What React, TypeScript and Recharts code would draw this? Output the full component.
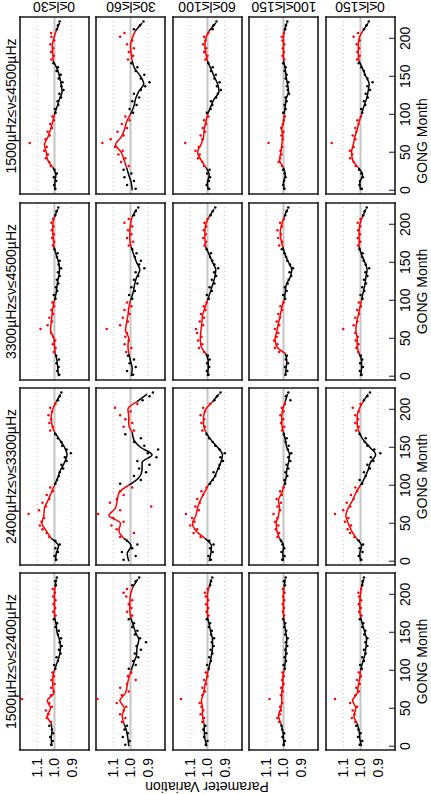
import React from 'react';
import { ComposedChart, XAxis, YAxis, Scatter, Line, ReferenceLine } from 'recharts';

const FONT = '"Liberation Sans", Arial, Helvetica, sans-serif';

// GONG months of the smoothed curve and of the monthly points
const lineMonths = [0, 10, 20, 30, 40, 50, 60, 70, 80, 90, 100, 110, 120, 130, 140, 150, 160, 170, 180, 190, 200, 210, 220];
const dotMonths = [2, 7, 12, 17, 22, 27, 32, 37, 42, 47, 52, 57, 62, 67, 72, 77, 82, 87, 92, 97, 102, 107, 112, 117, 122, 127, 132, 137, 142, 147, 152, 157, 162, 167, 172, 177, 182, 187, 192, 197, 202, 207, 212, 217, 222];

const bands = ['1500µHz≤ν≤2400µHz', '2400µHz≤ν≤3300µHz', '3300µHz≤ν≤4500µHz', '1500µHz≤ν≤4500µHz'];
const degrees = ['0≤l≤30', '30≤l≤60', '60≤l≤100', '100≤l≤150', '0≤l≤150'];

const monthTicks = [0, 50, 100, 150, 200];
const minorTicks = [0, 10, 20, 30, 40, 50, 60, 70, 80, 90, 100, 110, 120, 130, 140, 150, 160, 170, 180, 190, 200, 210, 220];
const valueTicks = [0.9, 1.0, 1.1];

// parameter variation, (value - 1) x 1000, one row per degree range
const line1524 = [
  [15, 19, 15, 19, 42, 23, 42, 4, 10, 10, 0, -15, -29, -35, -29, -15, -10, 0, 0, 0, 0, -4, -10],
  [10, 15, 23, 38, 48, 35, 62, 29, 19, 10, -4, -19, -35, -38, -48, -29, -15, 0, 4, 4, 0, -15, -42],
  [4, 15, 19, 19, 29, 29, 35, 23, 15, 4, -4, -15, -23, -29, -29, -19, -10, 0, 0, 0, 0, -10, -23],
  [-4, 0, 4, 15, 29, 15, 10, 10, 4, 4, -4, -10, -13, -15, -19, -13, -6, 0, 0, 0, 0, -4, -10],
  [-6, 4, 8, 19, 38, 27, 46, 19, 13, 4, 0, -12, -25, -31, -35, -25, -12, 0, 4, 4, 0, -6, -19],
];
const line2433 = [
  [-6, -10, -23, 19, 48, 73, 62, 58, 38, 19, 0, -19, -35, -58, -73, -58, -29, 0, 15, 19, 10, -10, -35],
  [10, 19, -4, 38, 67, 58, 125, 87, 77, 67, 10, -48, -67, -67, -125, -58, -19, -10, 10, 10, 15, -38, -96],
  [-10, -19, -23, 15, 67, 87, 67, 58, 42, 19, -4, -38, -58, -77, -87, -58, -19, 10, 23, 23, 10, -29, -67],
  [0, 4, 0, 23, 38, 42, 29, 23, 29, 10, -4, -15, -19, -29, -35, -19, -10, 0, 10, 10, 4, -10, -23],
  [0, 4, -6, 23, 52, 71, 85, 71, 46, 27, 0, -25, -44, -58, -88, -54, -15, 8, 19, 19, 8, -15, -44],
];
const line3345 = [
  [-23, -19, -15, -4, 0, 4, 23, 19, 15, 10, 0, -10, -15, -23, -29, -23, -10, 4, 6, 10, 10, 0, -19],
  [-4, -10, 0, 10, 15, 10, 29, 23, 15, 10, 0, -15, -23, -35, -54, -35, -19, -4, 4, 4, 0, -10, -35],
  [0, -4, -4, 10, 38, 42, 38, 33, 29, 15, 0, -15, -29, -42, -48, -29, -10, 10, 15, 15, 10, -10, -38],
  [-10, -15, -19, -10, 42, 48, 38, 29, 19, 10, -4, -10, -15, -38, -48, -29, -10, 4, 15, 19, 10, -4, -23],
  [0, -6, -6, 8, 19, 19, 27, 23, 13, 4, -6, -15, -25, -31, -38, -25, -6, 8, 8, 8, 4, -12, -31],
];
const line1545 = [
  [-3, -2, -8, 10, 40, 48, 58, 38, 23, 10, 0, -15, -29, -44, -38, -29, -15, 8, 10, 13, 4, -10, -29],
  [-10, -4, 10, 23, 38, 54, 87, 54, 35, 23, 0, -19, -29, -48, -77, -58, -25, -10, -4, 0, -10, -29, -67],
  [-4, 0, -10, 10, 38, 58, 38, 23, 19, 10, 0, -19, -38, -67, -58, -38, -19, 0, 10, 15, 10, -10, -48],
  [-4, 0, -10, 0, 23, 15, 10, 4, 10, 0, -4, -10, -15, -29, -23, -15, -10, 0, 0, 0, 0, -4, -19],
  [0, 4, -12, 13, 46, 52, 42, 33, 19, 8, -6, -19, -35, -44, -50, -31, -12, 8, 13, 13, 8, -15, -44],
];

const dots1524 = [
  [20, 10, 25, 8, 15, 30, 20, 45, 35, 50, 15, 30, 188, 20, 5, 20, 0, 18, 4, 12, -5, 2, -20, -12, -35, -25, -42, -30, -38, -20, -25, -6, -15, 4, -6, 8, -4, 6, -6, 8, -2, 10, -8, -4, -14],
  [30, 5, 45, 15, 35, 20, 50, 30, 60, 40, 25, 80, 192, 50, 10, 60, 20, -30, 15, -5, 10, -30, -15, -45, -25, -60, -35, -90, -55, -25, -40, -10, -20, 10, -10, 20, -5, 10, -10, 25, 40, 20, -10, -30, -50],
  [10, 0, 20, 8, 25, 12, 30, 20, 40, 25, 35, 45, 154, 30, 15, 30, 8, 20, 0, 10, -8, 2, -20, -10, -28, -18, -35, -25, -38, -20, -25, -8, -15, 4, -6, 6, -4, 8, -4, 10, 15, 0, -15, -20, -28],
  [0, -8, 6, -4, 8, 12, 25, 35, 20, 15, 20, 8, 81, 15, 4, 14, 0, 8, -2, 6, -8, 0, -15, -6, -18, -10, -22, -14, -24, -10, -16, -4, -10, 2, -4, 4, -2, 4, -4, 2, -6, 4, -8, -2, -12],
  [5, -10, 15, 0, 12, 25, 30, 50, 35, 45, 20, 60, 148, 30, 10, 25, 5, 20, -2, 10, -8, 2, -20, -10, -30, -20, -40, -28, -40, -22, -28, -10, -16, 4, -6, 8, -2, 10, -4, 8, 12, -4, -10, -12, -20],
];
const dots2433 = [
  [-10, 0, -20, -5, -30, -5, 30, 45, 70, 85, 75, 60, 150, 90, 50, 70, 30, 45, 10, 25, -5, -15, -25, -30, -50, -40, -70, -60, -95, -70, -45, -40, -20, -5, 25, 10, 30, 20, 35, 15, 25, -5, -20, -30, -40],
  [40, -30, 50, -10, -40, 20, 60, -20, 80, 110, 40, 100, 188, 60, -120, 120, 80, 40, 60, -10, 60, -60, -20, -90, -50, -110, -40, -150, -100, -160, -80, -20, -60, 30, -20, 40, -10, 30, 60, 0, 90, -40, -70, -110, -130],
  [-20, -5, -30, -15, -35, -10, 40, 80, 60, 100, 75, 90, 125, 50, 70, 45, 60, 25, 35, 5, -15, -30, -45, -35, -65, -70, -90, -75, -100, -70, -45, -30, -10, 5, 30, 15, 35, 20, 40, 15, 25, -15, -40, -55, -75],
  [8, -6, 12, -4, 6, 15, 35, 25, 45, 30, 50, 35, 58, 20, 35, 15, 40, 10, 20, 0, -10, -5, -22, -12, -28, -18, -40, -28, -45, -25, -30, -12, -18, -2, 8, -4, 15, 2, 18, 0, 10, -8, -40, -14, -28],
  [-5, 10, -12, 5, -15, 10, 35, 60, 75, 55, 90, 70, 148, 100, 60, 80, 40, 55, 20, 30, -10, 5, -30, -20, -55, -40, -75, -60, -115, -80, -40, -25, -30, 5, 25, 10, 30, 15, 30, 10, 45, 0, -20, -40, -55],
];
const dots3345 = [
  [-28, -16, -24, -12, -26, -10, 4, -6, 10, -4, 8, 20, 81, 40, 15, 30, 8, 18, 2, 12, -6, 4, -16, -8, -22, -14, -30, -20, -38, -24, -30, -14, -18, 0, 10, 2, 14, 4, 16, 6, 18, 8, -4, -12, -22],
  [-15, 20, -30, 5, -20, 15, 25, -5, 35, 10, 30, 20, 138, 60, 15, 45, 5, 35, -5, 20, -10, 8, -25, -5, -40, -20, -45, -30, -80, -50, -60, -25, -35, -10, 10, -15, 20, -5, 15, -10, 35, 10, -20, -30, -45],
  [-6, 4, -10, 2, -12, -2, 20, 50, 30, 55, 35, 60, 67, 25, 45, 20, 38, 12, 22, 5, -8, 4, -25, -12, -40, -25, -50, -38, -62, -40, -28, -15, -20, 5, 18, 8, 25, 10, 22, 8, 18, 0, -18, -30, -45],
  [-12, -22, -8, -26, -14, -20, 25, 50, 35, 55, 40, 30, 50, 25, 40, 20, 30, 8, 18, 0, -10, 2, -18, -8, -24, -30, -45, -35, -55, -38, -22, -15, -5, 10, 25, 8, 30, 15, 35, 10, 20, -2, -10, -18, -28],
  [-6, 4, -14, 2, -10, -2, 14, 24, 12, 28, 16, 30, 100, 40, 18, 30, 8, 20, -2, 10, -12, 0, -22, -10, -32, -20, -40, -28, -50, -30, -18, -10, -12, 6, 14, 2, 16, 4, 14, 2, 16, 0, -16, -24, -36],
];
const dots1545 = [
  [-5, 2, -10, 4, -14, 0, 22, 30, 50, 38, 60, 45, 144, 52, 28, 40, 15, 25, 4, 12, -6, -2, -22, -18, -38, -28, -52, -40, -46, -24, -36, -12, -20, 6, 18, 4, 20, 8, 24, 2, 18, 20, -14, -20, -30],
  [-30, 20, -20, 35, -5, 40, 10, 55, 30, 70, 45, 90, 163, 115, 40, 75, 20, 50, 5, 30, -15, 5, -35, -10, -50, -20, -60, -85, -110, -60, -80, -30, -40, -5, 15, -15, 10, -20, 20, -10, 60, 35, -20, -55, -75],
  [-10, 5, -8, -15, 2, -12, 20, 30, 55, 45, 70, 50, 129, 30, 40, 15, 28, 8, 20, -5, 4, -18, -28, -20, -50, -60, -78, -55, -70, -40, -48, -20, -30, -5, 12, 0, 20, 8, 25, 12, 20, -5, -30, -35, -52],
  [-6, 2, -4, -12, -6, 2, 8, 28, 20, 12, 18, 8, 87, 6, 12, 0, 14, 4, -2, -8, 2, -12, -6, -18, -12, -32, -24, -20, -28, -12, -18, -6, -12, 2, -4, 6, -2, 4, -4, 6, 10, -2, -10, -14, -22],
  [-8, 6, 2, -14, -4, 8, 28, 40, 60, 48, 62, 40, 167, 30, 45, 25, 30, 12, 18, -2, -10, -4, -28, -20, -42, -30, -55, -40, -70, -40, -25, -20, -4, 10, 20, 5, 18, 8, 22, 5, 40, 15, -20, -35, -48],
];

const bandLines = [line1524, line2433, line3345, line1545];
const bandDots = [dots1524, dots2433, dots3345, dots1545];

// red = rising phases of the cycles
const isRed = (m: number) => (m >= 30 && m < 100) || (m >= 170 && m < 210);
// pieces of the smoothed curve, as index ranges in lineMonths
const pieces = [[0, 3], [3, 10], [10, 17], [17, 21], [21, 22]];

const PW = 177;
const PH = 69;
const PAD = 3;
const colLeft = [44, 229, 414, 599.5];
const rowTop = [19.5, 96, 172.5, 249, 325.5];
const MDOM: [number, number] = [-5, 228];
const VDOM: [number, number] = [0.8, 1.2];
const BOX = '#1a1a1a';
const boxLine = { stroke: BOX, strokeWidth: 1.6, strokeLinecap: 'square' as const };

const dot = (color: string) => (p: any) => <circle cx={p.cx} cy={p.cy} r={1.25} fill={color} />;

function Panel({ b, r }: { b: number; r: number }) {
  const lv = bandLines[b][r];
  const dv = bandDots[b][r];
  const pts = lineMonths.map((m, i) => ({ m, v: 1 + lv[i] / 1000 }));
  const all = dotMonths.map((m, i) => ({ m, v: 1 + dv[i] / 1000 }));
  const redDots = all.filter((d) => isRed(d.m));
  const blackDots = all.filter((d) => !isRed(d.m));
  const showX = r === 4;
  const showY = b === 0;
  const exL = showY ? 40 : 0;
  const exB = showX ? 24 : 0;
  const tickFont = { fontSize: 14, fill: '#000', fontFamily: FONT };

  return (
    <div style={{ position: 'absolute', left: colLeft[b] - PAD - exL, top: rowTop[r] - PAD }}>
      <ComposedChart
        width={PW + 2 * PAD + exL}
        height={PH + 2 * PAD + exB}
        margin={{ top: PAD, right: PAD, bottom: PAD, left: PAD }}
      >
        {showX ? (
          <XAxis xAxisId="b" type="number" dataKey="m" domain={MDOM} allowDataOverflow orientation="bottom" height={exB}
            ticks={monthTicks} interval={0} tickSize={-6} tickMargin={11} stroke={BOX} axisLine={boxLine} tick={tickFont} />
        ) : (
          <XAxis xAxisId="b" type="number" dataKey="m" domain={MDOM} allowDataOverflow orientation="bottom" mirror height={0.01}
            ticks={monthTicks} interval={0} tickSize={6} tick={false} stroke={BOX} axisLine={boxLine} />
        )}
        <XAxis xAxisId="b2" type="number" domain={MDOM} allowDataOverflow orientation="bottom" mirror height={0.01}
          ticks={minorTicks} interval={0} tickSize={3} tick={false} stroke={BOX} axisLine={false} />
        <XAxis xAxisId="t" type="number" domain={MDOM} allowDataOverflow orientation="top" mirror height={0.01}
          ticks={monthTicks} interval={0} tickSize={6} tick={false} stroke={BOX} axisLine={boxLine} />
        <XAxis xAxisId="t2" type="number" domain={MDOM} allowDataOverflow orientation="top" mirror height={0.01}
          ticks={minorTicks} interval={0} tickSize={3} tick={false} stroke={BOX} axisLine={false} />
        <YAxis yAxisId="l" type="number" dataKey="v" domain={VDOM} allowDataOverflow orientation="left" mirror width={0.01}
          ticks={valueTicks} interval={0} tickSize={5} tick={false} stroke={BOX} axisLine={boxLine} />
        <YAxis yAxisId="r" type="number" domain={VDOM} allowDataOverflow orientation="right" mirror width={0.01}
          ticks={valueTicks} interval={0} tickSize={5} tick={false} stroke={BOX} axisLine={boxLine} />
        {showY && (
          <YAxis yAxisId="lab" type="number" domain={VDOM} allowDataOverflow orientation="left" width={40}
            ticks={valueTicks} interval={0} tickSize={0} tickMargin={8} axisLine={false} tickLine={false} tick={tickFont}
            tickFormatter={(v: number) => v.toFixed(1)} />
        )}
        <ReferenceLine xAxisId="b" yAxisId="l" y={1.1} stroke="#c4c4c4" strokeDasharray="1 3" />
        <ReferenceLine xAxisId="b" yAxisId="l" y={0.9} stroke="#c4c4c4" strokeDasharray="1 3" />
        <ReferenceLine xAxisId="b" yAxisId="l" y={1.0} stroke="#c4c4c4" strokeWidth={2} />
        <Scatter xAxisId="b" yAxisId="l" data={blackDots} dataKey="v" shape={dot('#000')} isAnimationActive={false} />
        <Scatter xAxisId="b" yAxisId="l" data={redDots} dataKey="v" shape={dot('#ff0000')} isAnimationActive={false} />
        {pieces.map(([s, e], k) => (
          <Line key={k} xAxisId="b" yAxisId="l" data={pts.slice(s, e + 1)} dataKey="v" type="monotone"
            stroke={k % 2 === 1 ? '#ff0000' : '#000'} strokeWidth={1.5} dot={false} isAnimationActive={false} />
        ))}
      </ComposedChart>
    </div>
  );
}

const label = (left: number, top: number, rot: number, text: string, key?: string) => (
  <div key={key} style={{
    position: 'absolute', left, top, transform: `translate(-50%, -50%) rotate(${rot}deg)`,
    fontSize: 14, whiteSpace: 'nowrap', lineHeight: '16px', color: '#000',
  }}>{text}</div>
);

// centre of the "GONG Month" caption below each band
const monthLabelX = [132.5, 317.5, 502.5, 653];

export default function App() {
  return (
    <div style={{ position: 'fixed', left: 0, top: 0, width: 431, height: 794, overflow: 'hidden', background: '#fff' }}>
      <div style={{
        position: 'absolute', left: 0, top: 0, width: 794, height: 431,
        transformOrigin: '0 0', transform: 'rotate(-90deg) translateX(-794px)', fontFamily: FONT,
      }}>
        {bands.map((_, b) => degrees.map((__, r) => <Panel key={`${b}-${r}`} b={b} r={r} />))}
        {bands.map((t, b) => label(colLeft[b] + PW / 2, 11, 0, t, `b${b}`))}
        {degrees.map((t, r) => label(787, rowTop[r] + PH / 2, -90, t, `d${r}`))}
        {monthLabelX.map((x, b) => label(x, 422, 0, 'GONG Month', `g${b}`))}
        {label(7, 207, -90, 'Parameter Variation')}
      </div>
    </div>
  );
}
